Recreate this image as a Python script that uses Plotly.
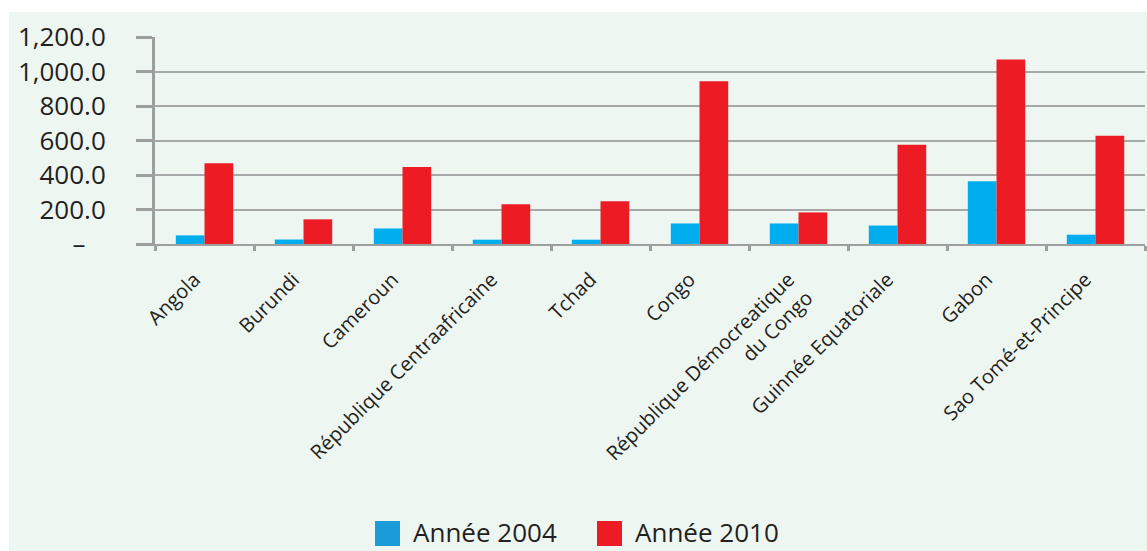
import plotly.graph_objects as go

# Pays de la zone et valeurs par année
pays = [
    "Angola",
    "Burundi",
    "Cameroun",
    "République Centraafricaine",
    "Tchad",
    "Congo",
    "République Démocreatique<br>du Congo",
    "Guinnée Equatoriale",
    "Gabon",
    "Sao Tomé-et-Principe",
]
annee_2004 = [50, 26, 90, 25, 25, 119, 119, 107, 364, 54]
annee_2010 = [468, 143, 447, 231, 248, 943, 183, 575, 1070, 627]
series = ["Année 2004", "Année 2010"]

y_ticks = [0, 200, 400, 600, 800, 1000, 1200]
y_labels = ["–\u00a0\u00a0\u00a0", "200.0", "400.0", "600.0", "800.0", "1,000.0", "1,200.0"]

BLEU_BARRE = "#00AEEF"
ROUGE_BARRE = "#ED1C24"
BLEU_LEGENDE = "#1B9BD7"
ROUGE_LEGENDE = "#ED1C24"
GRIS = "#9C9E9F"
FOND = "#EEF6F1"
TEXTE = "#231F20"
POLICE = "Open Sans"

W, H = 1147, 551
L, R, T, B = 155, 2, 37, 307
pw = W - L - R
ph = H - T - B


def px_x(x):
    return (x - L) / pw


def px_y(y):
    return (T + ph - y) / ph


fig = go.Figure()
fig.add_trace(go.Bar(x=pays, y=annee_2004, name=series[0],
                     marker=dict(color=BLEU_BARRE, line=dict(width=0))))
fig.add_trace(go.Bar(x=pays, y=annee_2010, name=series[1],
                     marker=dict(color=ROUGE_BARRE, line=dict(width=0))))

# Panneau de fond vert pâle avec une marge blanche en haut et à gauche
fig.add_shape(type="rect", xref="paper", yref="paper", layer="below",
              x0=px_x(9), x1=px_x(W + 5), y0=px_y(H + 5), y1=px_y(12),
              fillcolor=FOND, line=dict(width=0))

# Légende : grands carrés de couleur suivis du libellé
legende = [(375, BLEU_LEGENDE, series[0]), (597, ROUGE_LEGENDE, series[1])]
for x0, couleur, libelle in legende:
    fig.add_shape(type="rect", xref="paper", yref="paper",
                  x0=px_x(x0), x1=px_x(x0 + 25), y0=px_y(546), y1=px_y(521),
                  fillcolor=couleur, line=dict(width=0))
    fig.add_annotation(xref="paper", yref="paper", x=px_x(x0 + 37), y=px_y(532),
                       xanchor="left", yanchor="middle", showarrow=False,
                       borderpad=0,
                       text=libelle, font=dict(size=26, family=POLICE, color=TEXTE))

fig.update_layout(
    width=W, height=H,
    margin=dict(l=L, r=R, t=T, b=B, pad=0, autoexpand=False),
    paper_bgcolor="white",
    plot_bgcolor="rgba(0,0,0,0)",
    barmode="group",
    bargap=0.42,
    bargroupgap=0,
    showlegend=False,
    font=dict(family=POLICE, color=TEXTE),
    xaxis=dict(
        type="category", automargin=False,
        showline=True, linecolor=GRIS, linewidth=2,
        ticks="outside", tickson="boundaries", ticklen=5, tickwidth=3, tickcolor=GRIS,
        tickangle=-45, tickfont=dict(size=20, family=POLICE, color=TEXTE),
        ticklabelstandoff=14, ticklabelshift=-10,
        showgrid=False, zeroline=False,
    ),
    yaxis=dict(
        range=[0, 1200], automargin=False,
        tickmode="array", tickvals=y_ticks, ticktext=y_labels,
        showline=True, linecolor=GRIS, linewidth=3,
        ticks="outside", ticklen=16, tickwidth=3, tickcolor=GRIS,
        tickfont=dict(size=26, family=POLICE, color=TEXTE),
        ticklabelstandoff=25,
        showgrid=True, gridcolor="#A6A8AA", gridwidth=2,
        zeroline=False,
    ),
)

fig.write_html("out.html")
